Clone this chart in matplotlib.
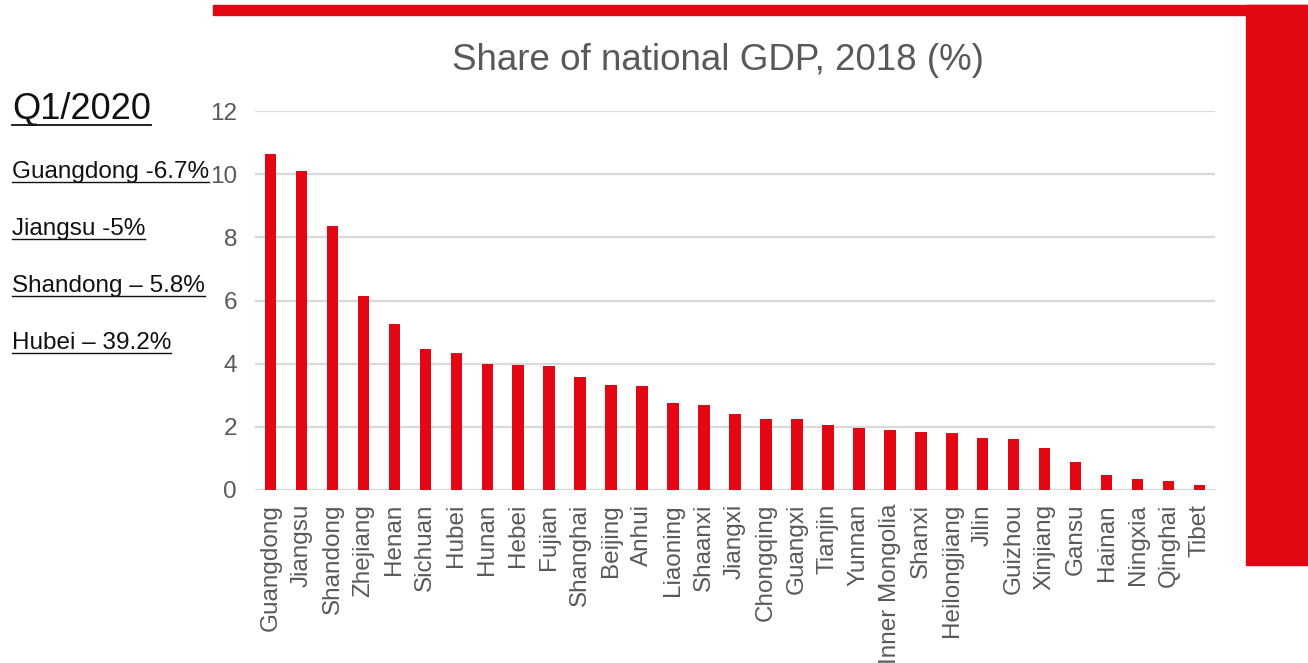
import matplotlib
matplotlib.use("Agg")
import matplotlib.pyplot as plt
from matplotlib.patches import Rectangle
from matplotlib.lines import Line2D
import numpy as np

plt.rcParams['font.family'] = ['Liberation Sans', 'DejaVu Sans']

# provinces and their share of national GDP in 2018 (%)
provinces = ["Guangdong", "Jiangsu", "Shandong", "Zhejiang", "Henan", "Sichuan",
             "Hubei", "Hunan", "Hebei", "Fujian", "Shanghai", "Beijing", "Anhui",
             "Liaoning", "Shaanxi", "Jiangxi", "Chongqing", "Guangxi", "Tianjin",
             "Yunnan", "Inner Mongolia", "Shanxi", "Heilongjiang", "Jilin",
             "Guizhou", "Xinjiang", "Gansu", "Hainan", "Ningxia", "Qinghai", "Tibet"]
share = [10.64, 10.1, 8.36, 6.14, 5.26, 4.46, 4.34, 3.99, 3.96, 3.93, 3.58, 3.32,
         3.29, 2.75, 2.69, 2.41, 2.25, 2.25, 2.06, 1.96, 1.9, 1.84, 1.8, 1.65,
         1.62, 1.33, 0.89, 0.48, 0.36, 0.29, 0.16]
yticks = [0, 2, 4, 6, 8, 10, 12]

# Q1/2020 growth notes on the left
notes = ["Guangdong -6.7%", "Jiangsu -5%", "Shandong \u2013 5.8%", "Hubei \u2013 39.2%"]

RED = "#E30613"
GREY = "#595959"
W, H = 1308, 663

fig = plt.figure(figsize=(W / 100, H / 100), dpi=100)
ax = fig.add_axes([255 / W, 1 - 490 / H, 960 / W, 379 / H])

x = np.arange(len(provinces))
ax.bar(x, share, width=0.37, color=RED, zorder=3)
ax.set_xlim(-0.5, len(provinces) - 0.5)
ax.set_ylim(0, 12)
ax.set_yticks(yticks)
ax.set_xticks(x)
ax.set_xticklabels(provinces, rotation=90, fontsize=17.5, color=GREY)
ax.tick_params(axis='y', labelsize=17.5, labelcolor=GREY, length=0, pad=13)
ax.tick_params(axis='x', length=0, pad=10)
ax.grid(axis='y', color="#D9D9D9", linewidth=1.6, zorder=0)
for s in ax.spines.values():
    s.set_visible(False)

fig.text(718 / W, 1 - 60 / H, "Share of national GDP, 2018 (%)", fontsize=26.5,
         color=GREY, ha='center', va='center')

# red frame pieces
fig.patches.append(Rectangle((213 / W, 1 - 15 / H), 1 - 213 / W, 10 / H,
                             transform=fig.transFigure, color=RED, zorder=5))
fig.patches.append(Rectangle((1246 / W, 1 - 565 / H), 1 - 1246 / W, 560 / H,
                             transform=fig.transFigure, color=RED, zorder=5))

# underlined text on the left
labels = [("Q1/2020", 26, 119)] + [(t, 17.5, 178 + 57 * i) for i, t in enumerate(notes)]
texts = []
for txt, size, base in labels:
    t = fig.text(12 / W, 1 - base / H, txt, fontsize=size, color="#111111",
                 ha='left', va='baseline')
    texts.append((t, base, size))

fig.canvas.draw()
r = fig.canvas.get_renderer()
for t, base, size in texts:
    bb = t.get_window_extent(r)
    uy = 1 - (base + size * 0.22) / H
    fig.lines.append(Line2D([bb.x0 / W, bb.x1 / W], [uy, uy], transform=fig.transFigure,
                            color="#111111", linewidth=1.3 if size > 20 else 1.0))

fig.savefig("out.png", dpi=100)
